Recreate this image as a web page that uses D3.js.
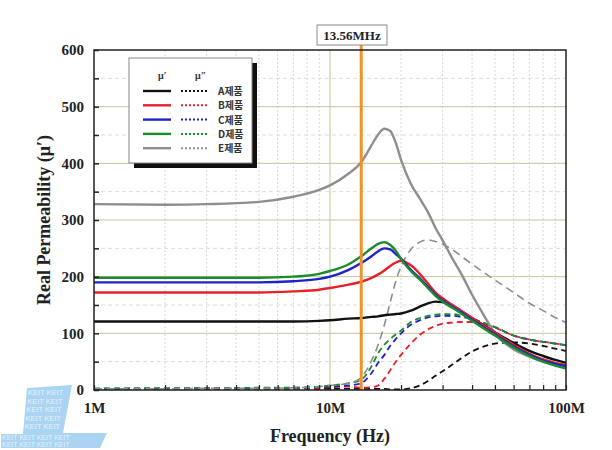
<!DOCTYPE html>
<html><head><meta charset="utf-8">
<script src="https://cdn.jsdelivr.net/npm/d3@7"></script>
<style>body{margin:0;background:#fff}svg{display:block}</style>
</head><body>
<svg id="c" width="612" height="450"></svg>
<script>
// Frequencies in MHz
const freqs = [1,2,3,5,7,9,10,12,13.56,15,16,17,18,19,20,22,24,26,28,30,33,36,40,45,50,60,70,80,90,100];
// Real permeability (solid)
const realA = [121,121,121,121,121,122,123,126,127,129,130,132,133,134,135,140,147,153,156,155,149,139,127,114,102,83,69,60,53,48];
const realB = [172,172,172,172,174,177,180,186,191,198,204,211,219,225,228,220,205,188,172,162,150,140,127,113,101,80,64,54,48,44];
const realC = [190,190,190,190,192,196,200,212,224,236,245,250,248,240,232,212,197,182,168,158,147,137,124,110,98,77,62,52,46,42];
const realD = [198,198,198,198,200,205,210,222,236,250,258,261,256,246,231,210,195,180,166,156,145,135,122,108,96,75,60,50,43,38];
const realE = [328,327,328,332,341,353,361,382,402,432,451,461,457,436,406,364,338,314,286,264,232,205,168,131,100,72,59,50,45,41];
// Imaginary permeability (dashed)
const imagA = [2,2,2,2,2,2,2,2,2,2,2,2,1,1,1,3,8,16,25,33,45,56,68,77,82,84,82,78,73,69];
const imagB = [2,2,3,3,3,4,5,6,4,5,8,20,35,50,62,82,97,107,113,117,119,120,120,116,110,96,89,85,82,79];
const imagC = [2,3,3,3,4,5,6,8,12,30,48,62,78,90,100,115,123,128,130,131,131,129,125,118,111,96,89,85,82,79];
const imagD = [3,3,3,4,4,6,8,12,18,42,65,80,90,98,105,120,127,131,133,134,134,131,126,118,111,96,89,85,82,79];
const imagE = [2,2,3,3,4,6,8,12,22,52,80,115,155,192,218,248,261,265,262,257,248,236,222,207,194,172,153,140,128,119];
const seriesNames = ["A제품","B제품","C제품","D제품","E제품"];
const seriesColors = ["#111111","#e8202a","#1f22c8","#1b8c2a","#8e8e8e"];
const yTicks = [0,100,200,300,400,500,600];
const xTickLabels = ["1M","10M","100M"];
const markerFreq = 13.56;
const markerLabel = "13.56MHz";
const watermarkWord = "KEIT";

const svg = d3.select("#c");
const L=94,R=566,T=50,B=390;
const x = d3.scaleLog().domain([1,100]).range([L,R]);
const y = d3.scaleLinear().domain([0,600]).range([B,T]);
const serif = "'Liberation Serif','Times New Roman',serif";

// watermark
const wm = svg.append("g");
const wpoly = [[27,388],[72,385],[63,433],[107,433],[100,448],[1,448],[1,434],[23,434]];
wm.append("clipPath").attr("id","wmclip").append("polygon").attr("points",wpoly.map(p=>p.join(",")).join(" "));
wm.append("polygon").attr("points",wpoly.map(p=>p.join(",")).join(" ")).attr("fill","#aad4f2");
const wt = wm.append("g").attr("clip-path","url(#wmclip)");
for(let i=0;i<5;i++){
  wt.append("text").attr("x",28-i*0.8).attr("y",395+i*8.5).text(`${watermarkWord} ${watermarkWord}`)
    .attr("font-family","'Liberation Sans',sans-serif").attr("font-size",7.5).attr("fill","#e4f2fc");
}
const bt = wt.append("text").attr("font-family","'Liberation Sans',sans-serif").attr("font-size",7).attr("fill","#e4f2fc");
[0,1].forEach(i=>{
  bt.append("tspan").attr("x",2).attr("y",440+i*7).text(Array(4).fill(watermarkWord).join(" "));
});

// grid
const g = svg.append("g");
const minorF = [];
[1,10].forEach(d=>{for(let k=2;k<=9;k++) minorF.push(d*k);});
g.selectAll(".vg").data(minorF).join("line").attr("x1",d=>x(d)).attr("x2",d=>x(d)).attr("y1",T).attr("y2",B)
  .attr("stroke","#d8d8d8").attr("stroke-width",1).attr("stroke-dasharray","2,2");
g.append("line").attr("x1",x(10)).attr("x2",x(10)).attr("y1",T).attr("y2",B).attr("stroke","#c4c49c").attr("stroke-width",1);
const halfs = d3.range(50,600,100);
g.selectAll(".hg2").data(halfs).join("line").attr("x1",L).attr("x2",R).attr("y1",d=>y(d)).attr("y2",d=>y(d))
  .attr("stroke","#dcdcdc").attr("stroke-width",1).attr("stroke-dasharray","4,3");
g.selectAll(".hg").data(d3.range(100,600,100)).join("line").attr("x1",L).attr("x2",R).attr("y1",d=>y(d)).attr("y2",d=>y(d))
  .attr("stroke","#c4c49c").attr("stroke-width",1);

const line = d3.line().x(d=>x(d[0])).y(d=>y(d[1])).curve(d3.curveMonotoneX);
const reals = [realA,realB,realC,realD,realE];
const imags = [imagA,imagB,imagC,imagD,imagE];
const pts = arr => freqs.map((f,i)=>[f,arr[i]]);

const plot = svg.append("g");
imags.forEach((arr,i)=>{
  plot.append("path").attr("d",line(pts(arr))).attr("fill","none").attr("stroke",seriesColors[i])
    .attr("stroke-width",i===4?1.6:1.8).attr("stroke-dasharray",i===4?"8,5":"6,4");
});
[4,0,1,2,3].forEach(i=>{
  plot.append("path").attr("d",line(pts(reals[i]))).attr("fill","none").attr("stroke",seriesColors[i])
    .attr("stroke-width",2.4);
});

// marker
svg.append("line").attr("x1",x(markerFreq)).attr("x2",x(markerFreq)).attr("y1",45).attr("y2",B)
  .attr("stroke","#f0922a").attr("stroke-width",3);
svg.append("rect").attr("x",317).attr("y",25).attr("width",70).attr("height",20).attr("fill","#fff")
  .attr("stroke","#8a8a8a").attr("stroke-width",1);
svg.append("text").attr("x",352).attr("y",40).attr("text-anchor","middle").text(markerLabel)
  .attr("font-family",serif).attr("font-weight","bold").attr("font-size",13).attr("fill","#222");

// frame
svg.append("rect").attr("x",L).attr("y",T).attr("width",R-L).attr("height",B-T).attr("fill","none")
  .attr("stroke","#222").attr("stroke-width",1.5);

// y axis ticks inward
const yAxis = d3.axisLeft(y).tickValues(d3.range(0,601,50)).tickSize(-5).tickFormat(d=>yTicks.includes(d)?d:"");
const ya = svg.append("g").attr("transform",`translate(${L},0)`).call(yAxis);
ya.select(".domain").remove();
ya.selectAll(".tick line").attr("stroke","#222").attr("stroke-width",1.5);
ya.selectAll(".tick text").attr("x",-10).attr("font-family",serif).attr("font-weight","bold").attr("font-size",15).attr("fill","#222");

// x axis ticks inward
const allX = [1,...minorF,10,100];
const xAxis = d3.axisBottom(x).tickValues(allX).tickSize(-5).tickFormat(d=>d===1?xTickLabels[0]:d===10?xTickLabels[1]:d===100?xTickLabels[2]:"");
const xa = svg.append("g").attr("transform",`translate(0,${B})`).call(xAxis);
xa.select(".domain").remove();
xa.selectAll(".tick line").attr("stroke","#222").attr("stroke-width",1.2);
xa.selectAll(".tick text").attr("y",12).attr("font-family",serif).attr("font-weight","bold").attr("font-size",15).attr("fill","#222");

// axis titles
svg.append("text").attr("x",330).attr("y",442).attr("text-anchor","middle").text("Frequency (Hz)")
  .attr("font-family",serif).attr("font-weight","bold").attr("font-size",18).attr("fill","#222");
svg.append("text").attr("transform","translate(50,220) rotate(-90)").attr("text-anchor","middle").text("Real Permeability (μ′)")
  .attr("font-family",serif).attr("font-weight","bold").attr("font-size",18).attr("fill","#222");

// legend
const lg = svg.append("g");
lg.append("rect").attr("x",134).attr("y",63).attr("width",123).attr("height",105).attr("fill","#111");
lg.append("rect").attr("x",129).attr("y",58).attr("width",123).attr("height",105).attr("fill","#fff").attr("stroke","#888").attr("stroke-width",1);
lg.append("text").attr("x",158).attr("y",79).text("μ′").attr("font-family",serif).attr("font-weight","bold").attr("font-size",10).attr("fill","#333");
lg.append("text").attr("x",195).attr("y",79).text("μ″").attr("font-family",serif).attr("font-weight","bold").attr("font-size",10).attr("fill","#333");
seriesNames.forEach((n,i)=>{
  const yy = 91+i*14.3;
  lg.append("line").attr("x1",143).attr("x2",171).attr("y1",yy).attr("y2",yy).attr("stroke",seriesColors[i]).attr("stroke-width",2.4);
  lg.append("line").attr("x1",181).attr("x2",207).attr("y1",yy).attr("y2",yy).attr("stroke",seriesColors[i]).attr("stroke-width",2).attr("stroke-dasharray","2,2");
  lg.append("text").attr("x",218).attr("y",yy+4).text(n).attr("font-family","'Noto Sans CJK KR',sans-serif").attr("font-weight","bold").attr("font-size",10).attr("fill","#333");
});
</script>
</body></html>
